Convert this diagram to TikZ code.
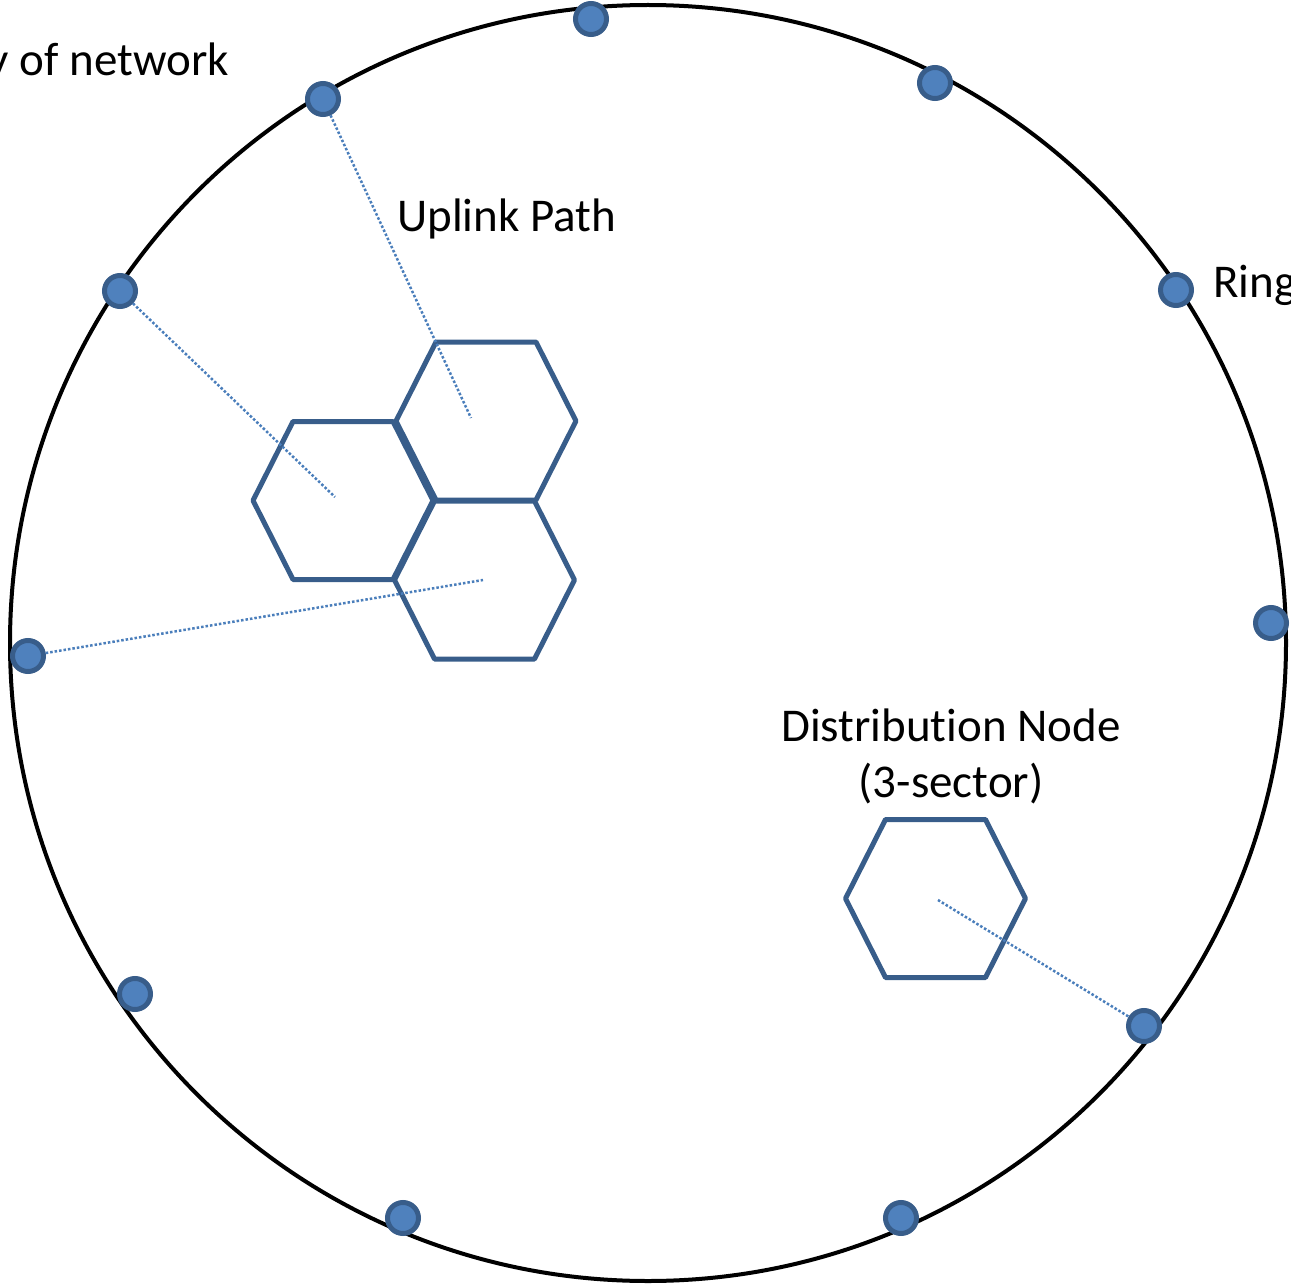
\documentclass[tikz,border=0pt]{standalone}
\usepackage{fontspec}
\setmainfont[Ligatures=NoCommon]{Carlito}
\definecolor{hexblue}{HTML}{385D8A}
\definecolor{dotfill}{HTML}{4F81BD}
\definecolor{linkblue}{HTML}{4A7EBB}
\begin{document}
\begin{tikzpicture}[x=1pt,y=-1pt,
  ring/.style={draw=black, line width=4pt},
  sitedot/.style={circle, draw=hexblue, fill=dotfill, line width=5pt, minimum size=31pt, inner sep=0pt},
  hexline/.style={draw=hexblue, line width=5pt, line join=round},
  uplink/.style={draw=linkblue, line width=2.5pt, dotted},
  lbl/.style={font=\fontsize{47}{56}\selectfont, inner sep=0pt}]
  \useasboundingbox (0,0) rectangle (1291,1284);
  \clip (0,0) rectangle (1291,1284);

  % network boundary
  \node[circle, ring, minimum size=1276pt, inner sep=0pt] (boundary) at (648,643) {};

  % sites on the boundary
  \node[sitedot] (s1) at (591,19) {};
  \node[sitedot] (s2) at (935,83) {};
  \node[sitedot] (s3) at (323,99) {};
  \node[sitedot] (s4) at (1176,290) {};
  \node[sitedot] (s5) at (120,291) {};
  \node[sitedot] (s6) at (1271,623) {};
  \node[sitedot] (s7) at (28,656) {};
  \node[sitedot] (s8) at (135,994) {};
  \node[sitedot] (s9) at (1144,1026) {};
  \node[sitedot] (s10) at (403,1218) {};
  \node[sitedot] (s11) at (901,1218) {};

  % hexagon centres and link end points
  \coordinate (h1) at (343,500.5);
  \coordinate (h2) at (486,421);
  \coordinate (h3) at (484.5,580);
  \coordinate (h4) at (935.5,898.5);
  \coordinate (e1) at (335,497);
  \coordinate (e2) at (471,418);
  \coordinate (e3) at (483,580);
  \coordinate (e4) at (938,900);

  % sector hexagons
  \foreach \c in {h1,h2,h3,h4}
    \draw[hexline, shift={(\c)}] (-90,0) -- (-50,79) -- (50,79) -- (90,0) -- (50,-79) -- (-50,-79) -- cycle;

  % uplink paths
  \draw[uplink] (s3) -- (e2);
  \draw[uplink] (s5) -- (e1);
  \draw[uplink] (s7) -- (e3);
  \draw[uplink] (e4) -- (s9);

  % labels
  \node[lbl, anchor=base east] (tnet) at (229,76) {y of network};
  \node[lbl, anchor=base west] (tring) at (1213,298) {Ring};
  \node[lbl, anchor=base west] (tup) at (397,232) {Uplink Path};
  \node[lbl, anchor=base] (tdn1) at (951,741) {Distribution Node};
  \node[lbl, anchor=base] (tdn2) at (951,797) {(3-sector)};
\end{tikzpicture}
\end{document}
